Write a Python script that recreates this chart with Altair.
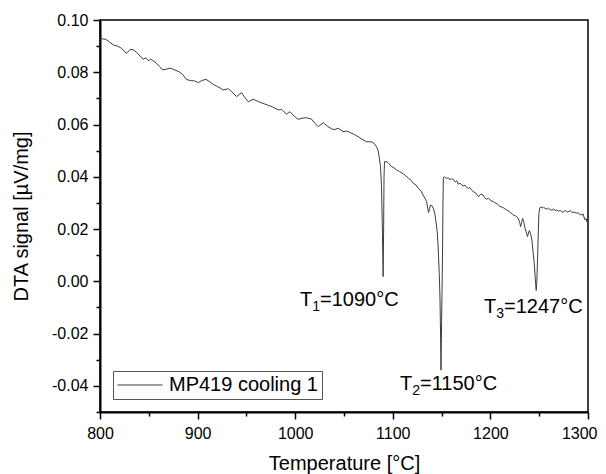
import altair as alt
import pandas as pd

temperature = [
    800, 802, 806, 810, 814, 818, 822, 827, 831, 834, 837.5, 841, 844, 847, 849.5, 852, 854.5, 858, 861, 864,
    868, 871.7, 876, 881, 885, 888.7, 893, 897, 900.7, 904, 908.6, 913, 916, 919.5, 923, 926, 931.5, 935, 940,
    945, 948, 952, 957, 962, 967, 972, 977, 982.7, 986, 991, 994.6, 999, 1003, 1007, 1010, 1014, 1017, 1020,
    1023.6, 1028.8, 1033, 1037, 1040, 1044, 1049, 1053, 1058, 1061, 1064.6, 1068, 1073, 1078, 1081, 1083.4,
    1085, 1086, 1087.4, 1088.4, 1089.4, 1090.1, 1090.6, 1091.0, 1091.5, 1093, 1095, 1098.8, 1101, 1104, 1107,
    1110.7, 1113, 1116, 1118, 1121, 1124, 1126, 1129, 1131, 1133, 1134.7, 1135.7, 1136.7, 1137.7, 1138.7, 1140,
    1141.5, 1143, 1144, 1145.5, 1146.6, 1147.6, 1148.4, 1149.0, 1149.4, 1150.0, 1150.8, 1151.4, 1151.8, 1153,
    1155, 1157, 1158.6, 1160, 1162, 1164, 1165.5, 1167, 1169, 1172, 1174, 1175.5, 1177.5, 1179, 1181, 1182.6,
    1185, 1187.8, 1190, 1192.7, 1194, 1196, 1198, 1200, 1203, 1205, 1207, 1209.8, 1212, 1214, 1216.7, 1219,
    1221, 1223.5, 1226, 1228.6, 1230, 1231, 1232, 1233, 1234.3, 1235.5, 1237, 1238, 1239, 1240, 1241.3, 1242.5,
    1243.8, 1244.9, 1246, 1246.9, 1247.6, 1248.3, 1249, 1249.7, 1250.5, 1251.7, 1253, 1254.5, 1256, 1258,
    1259.5, 1261, 1263, 1265, 1266.5, 1268, 1270, 1271.5, 1273, 1275, 1277, 1279, 1280.5, 1282, 1284, 1286,
    1288.6, 1290, 1291.5, 1293.7, 1295, 1296, 1297, 1298, 1298.8, 1299.5, 1300,
]
dta_signal = [
    0.0925, 0.0928, 0.0926, 0.0915, 0.0904, 0.0900, 0.0892, 0.0872, 0.0888, 0.0886, 0.0876, 0.0862, 0.0850,
    0.0855, 0.0844, 0.0850, 0.0844, 0.0834, 0.0822, 0.0809, 0.0812, 0.0816, 0.0810, 0.0802, 0.0790, 0.0772,
    0.0768, 0.0767, 0.0760, 0.0768, 0.0773, 0.0762, 0.0754, 0.0747, 0.0740, 0.0732, 0.0737, 0.0725, 0.0707,
    0.0722, 0.0705, 0.0687, 0.0697, 0.0688, 0.0681, 0.0674, 0.0667, 0.0656, 0.0658, 0.0640, 0.0649, 0.0632,
    0.0620, 0.0624, 0.0626, 0.0624, 0.0620, 0.0605, 0.0592, 0.0607, 0.0594, 0.0584, 0.0580, 0.0586, 0.0573,
    0.0575, 0.0566, 0.0561, 0.0553, 0.0545, 0.0534, 0.0534, 0.0527, 0.0515, 0.0500, 0.0477, 0.0439, 0.0362,
    0.0184, 0.0018, 0.0200, 0.0400, 0.0458, 0.0458, 0.0455, 0.0439, 0.0435, 0.0426, 0.0420, 0.0411, 0.0405,
    0.0394, 0.0390, 0.0375, 0.0368, 0.0356, 0.0345, 0.0330, 0.0318, 0.0305, 0.0280, 0.0263, 0.0280, 0.0292,
    0.0290, 0.0279, 0.0260, 0.0234, 0.0190, 0.0120, 0.0030, -0.0072, -0.0220, -0.0340, -0.0150, 0.0056,
    0.0300, 0.0398, 0.0400, 0.0394, 0.0396, 0.0388, 0.0393, 0.0390, 0.0380, 0.0385, 0.0372, 0.0375, 0.0365,
    0.0368, 0.0360, 0.0356, 0.0359, 0.0348, 0.0343, 0.0338, 0.0324, 0.0333, 0.0330, 0.0320, 0.0314, 0.0318,
    0.0310, 0.0305, 0.0300, 0.0296, 0.0286, 0.0284, 0.0280, 0.0273, 0.0268, 0.0262, 0.0254, 0.0250, 0.0241,
    0.0225, 0.0209, 0.0225, 0.0241, 0.0225, 0.0203, 0.0185, 0.0171, 0.0185, 0.0194, 0.0180, 0.0158, 0.0110,
    0.0069, 0.0010, -0.0035, 0.0000, 0.0082, 0.0180, 0.0260, 0.0280, 0.0285, 0.0280, 0.0284, 0.0279, 0.0276,
    0.0280, 0.0275, 0.0272, 0.0277, 0.0270, 0.0273, 0.0268, 0.0272, 0.0266, 0.0266, 0.0271, 0.0265, 0.0268,
    0.0270, 0.0263, 0.0265, 0.0260, 0.0263, 0.0256, 0.0254, 0.0258, 0.0245, 0.0235, 0.0240, 0.0228, 0.0238,
    0.0232,
]
series_name = "MP419 cooling 1"

# annotation anchors (data coords of label start / baseline)
ann_x = [1004.9, 1107.4, 1193.4]
ann_y = [-0.0095, -0.0416, -0.0121]
ann_sub = ["1", "2", "3"]
ann_rest = ["=1090°C", "=1150°C", "=1247°C"]

x_major = [800, 900, 1000, 1100, 1200, 1300]
x_minor = [850, 950, 1050, 1150, 1250]
y_major = [-0.04, -0.02, 0.00, 0.02, 0.04, 0.06, 0.08, 0.10]
y_minor = [-0.05, -0.03, -0.01, 0.01, 0.03, 0.05, 0.07, 0.09]

df = pd.DataFrame({"T": temperature, "DTA": dta_signal, "series": series_name})
ann = pd.DataFrame({"T": ann_x, "DTA": ann_y, "sub": ann_sub, "rest": ann_rest, "head": "T"})

FONT = "Liberation Sans"
xscale = alt.Scale(domain=[800, 1300], nice=False, zero=False)
yscale = alt.Scale(domain=[-0.05, 0.10], nice=False, zero=False)

last_x = f"datum.value == {x_major[-1]}"

line = alt.Chart(df).mark_line(color="#3d3d3d", strokeWidth=1).encode(
    x=alt.X("T:Q", scale=xscale,
            axis=alt.Axis(values=x_major, format="d", title="Temperature [°C]", orient="bottom",
                          tickSize=7, labelPadding=6, titlePadding=12, labelFlush=False,
                          labelAlign={"condition": {"test": last_x, "value": "right"}, "value": "center"},
                          labelOffset={"condition": {"test": last_x, "value": 9}, "value": 0})),
    y=alt.Y("DTA:Q", scale=yscale,
            axis=alt.Axis(values=y_major, orient="left", title="DTA signal [µV/mg]",
                          labelExpr="replace(format(datum.value, '.2f'), '\u2212', '-')",
                          tickSize=7, labelPadding=5, titlePadding=20, labelFlush=False)),
    color=alt.Color("series:N", scale=alt.Scale(range=["#3d3d3d"]), legend=alt.Legend(title=None)),
)

minor = alt.Chart(df).mark_line(opacity=0).encode(
    x=alt.X("T:Q", scale=xscale,
            axis=alt.Axis(values=x_minor, labels=False, title=None, orient="bottom", tickSize=4,
                          domain=False)),
    y=alt.Y("DTA:Q", scale=yscale,
            axis=alt.Axis(values=y_minor, labels=False, title=None, orient="left", tickSize=4,
                          domain=False)),
)

def txt(field, dx, dy, size):
    return alt.Chart(ann).mark_text(
        align="left", baseline="alphabetic", font=FONT, fontSize=size, color="black", dx=dx, dy=dy
    ).encode(
        x=alt.X("T:Q", scale=xscale, axis=None),
        y=alt.Y("DTA:Q", scale=yscale, axis=None),
        text=f"{field}:N",
    )

chart = alt.layer(
    line, minor,
    txt("head", 0, 0, 20),
    txt("sub", 12.2, 5, 14),
    txt("rest", 20, 0, 20),
).resolve_axis(x="independent", y="independent").properties(
    width=488, height=392,
    autosize=alt.AutoSizeParams(type="none"),
    padding={"left": 92, "top": 12, "right": 10, "bottom": 62},
).configure_view(
    stroke="black", strokeWidth=1.5
).configure_axis(
    grid=False, domainColor="black", domainWidth=2, tickColor="black", tickWidth=1.5,
    labelFont=FONT, labelFontSize=16, labelColor="black",
    titleFont=FONT, titleFontSize=20, titleFontWeight="normal", titleColor="black",
).configure_legend(
    orient="bottom-left", offset=13, strokeColor="#555555", fillColor="white", padding=4,
    labelFont=FONT, labelFontSize=20, labelColor="black", labelOffset=6,
    symbolType="stroke", symbolSize=2025, symbolStrokeWidth=1, cornerRadius=0, strokeWidth=1,
    clipHeight=20,
)

chart.save("out.html", embed_options={"renderer": "svg", "actions": False})
